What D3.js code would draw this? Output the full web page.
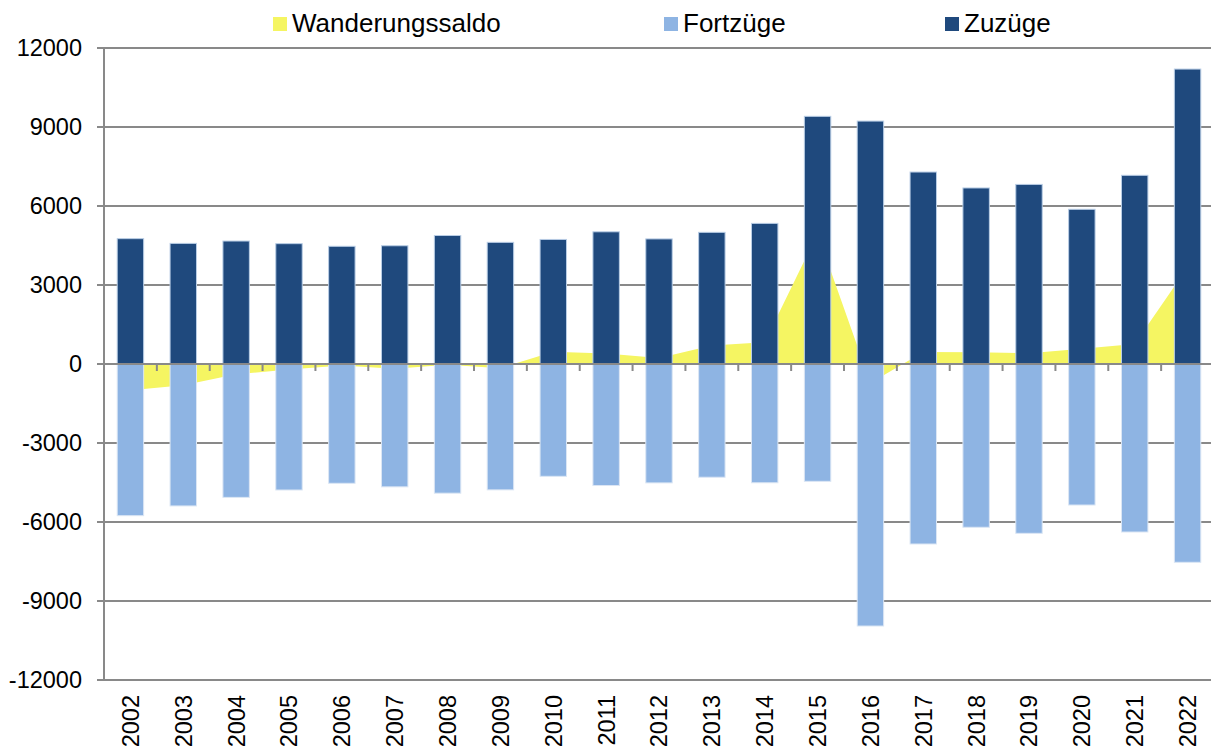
<!DOCTYPE html>
<html>
<head>
<meta charset="utf-8">
<script src="https://cdn.jsdelivr.net/npm/d3@7"></script>
<style>
  body { margin: 0; background: #fff; }
  text { font-family: "Liberation Sans", Arial, sans-serif; fill: #000; }
</style>
</head>
<body>
<div id="chart"></div>
<script>
'use strict';

// data
var years = ["2002", "2003", "2004", "2005", "2006", "2007", "2008", "2009", "2010", "2011", "2012",
             "2013", "2014", "2015", "2016", "2017", "2018", "2019", "2020", "2021", "2022"];
var zuzuege = [4760, 4580, 4670, 4570, 4470, 4490, 4880, 4620, 4730, 5020, 4750,
               5000, 5340, 9405, 9225, 7290, 6685, 6820, 5875, 7165, 11200];
var fortzuege = [-5760, -5390, -5065, -4785, -4530, -4665, -4905, -4780, -4265, -4615, -4515,
                 -4300, -4510, -4455, -9950, -6835, -6200, -6430, -5355, -6380, -7530];
var saldo = [-1000, -810, -390, -210, -60, -180, -30, -160, 465, 400, 230,
             700, 830, 4950, -720, 460, 450, 410, 580, 760, 3670];
var yTicks = [12000, 9000, 6000, 3000, 0, -3000, -6000, -9000, -12000];
var legendItems = [
  {label: "Wanderungssaldo", color: "#f5f562", x: 273},
  {label: "Fortzüge", color: "#8eb4e3", x: 664},
  {label: "Zuzüge", color: "#1f497d", x: 945}
];

var w = 1211, h = 749;
var plotLeft = 104, plotRight = 1214, plotTop = 48, plotBottom = 680;
var gridColor = "#898989";

var svg = d3.select("#chart")
    .append("svg")
    .attr("width", w)
    .attr("height", h);

var x = d3.scaleBand()
    .domain(years)
    .range([plotLeft, plotRight]);

var y = d3.scaleLinear()
    .domain([-12000, 12000])
    .range([plotBottom, plotTop]);

var barW = x.bandwidth() / 2;
var cx = function(d, i) { return x(years[i]) + x.bandwidth() / 2; };

// horizontal gridlines (behind everything)
svg.append("g")
    .selectAll("line")
    .data(yTicks)
    .enter()
    .append("line")
      .attr("x1", plotLeft - 7)
      .attr("x2", w)
      .attr("y1", function(d) { return y(d); })
      .attr("y2", function(d) { return y(d); })
      .attr("stroke", gridColor)
      .attr("stroke-width", 2);

// y tick labels
svg.append("g")
    .selectAll("text")
    .data(yTicks)
    .enter()
    .append("text")
      .attr("x", 82)
      .attr("y", function(d) { return y(d); })
      .attr("dy", "0.36em")
      .attr("text-anchor", "end")
      .style("font-size", "23.5px")
      .text(function(d) { return d; });

// Wanderungssaldo as area from zero
var area = d3.area()
    .x(cx)
    .y0(y(0))
    .y1(function(d) { return y(d); });

svg.append("path")
    .datum(saldo)
    .attr("fill", "#f5f562")
    .attr("d", area);

// Zuzüge bars
svg.append("g")
    .selectAll("rect")
    .data(zuzuege)
    .enter()
    .append("rect")
      .attr("x", function(d, i) { return cx(d, i) - barW / 2; })
      .attr("y", function(d) { return y(d); })
      .attr("width", barW)
      .attr("height", function(d) { return y(0) - y(d); })
      .attr("fill", "#1f497d")
      .attr("stroke", "#b9cde5")
      .attr("stroke-width", 1);

// Fortzüge bars
svg.append("g")
    .selectAll("rect")
    .data(fortzuege)
    .enter()
    .append("rect")
      .attr("x", function(d, i) { return cx(d, i) - barW / 2; })
      .attr("y", y(0))
      .attr("width", barW)
      .attr("height", function(d) { return y(d) - y(0); })
      .attr("fill", "#8eb4e3")
      .attr("stroke", "#dbe6f4")
      .attr("stroke-width", 1);

// zero line with category ticks
svg.append("line")
    .attr("x1", plotLeft - 7)
    .attr("x2", w)
    .attr("y1", y(0))
    .attr("y2", y(0))
    .attr("stroke", gridColor)
    .attr("stroke-width", 2);

svg.append("g")
    .selectAll("line")
    .data(years.slice(1))
    .enter()
    .append("line")
      .attr("x1", function(d) { return x(d); })
      .attr("x2", function(d) { return x(d); })
      .attr("y1", y(0))
      .attr("y2", y(0) + 7)
      .attr("stroke", gridColor)
      .attr("stroke-width", 2);

// y axis line
svg.append("line")
    .attr("x1", plotLeft)
    .attr("x2", plotLeft)
    .attr("y1", plotTop)
    .attr("y2", plotBottom)
    .attr("stroke", gridColor)
    .attr("stroke-width", 2);

// rotated year labels
svg.append("g")
    .selectAll("text")
    .data(years)
    .enter()
    .append("text")
      .attr("transform", function(d) {
        return "translate(" + (x(d) + x.bandwidth() / 2) + ",695) rotate(-90)";
      })
      .attr("dy", "0.36em")
      .attr("text-anchor", "end")
      .style("font-size", "23.5px")
      .text(function(d) { return d; });

// legend
var leg = svg.append("g")
    .selectAll("g")
    .data(legendItems)
    .enter()
    .append("g");

leg.append("rect")
    .attr("x", function(d) { return d.x; })
    .attr("y", 17)
    .attr("width", 14)
    .attr("height", 14)
    .attr("fill", function(d) { return d.color; });

leg.append("text")
    .attr("x", function(d) { return d.x + 19; })
    .attr("y", 32)
    .style("font-size", "26px")
    .text(function(d) { return d.label; });
</script>
</body>
</html>
